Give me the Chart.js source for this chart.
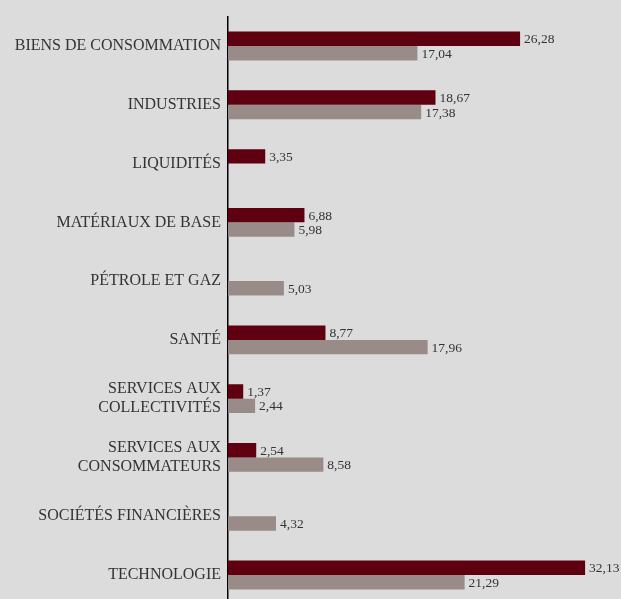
<!DOCTYPE html>
<html>
<head>
<meta charset="utf-8">
<script src="https://cdn.jsdelivr.net/npm/chart.js@4.4.1/dist/chart.umd.min.js"></script>
<style>
  html, body { margin: 0; padding: 0; background: #dcdcdc; overflow: hidden; }
  #wrap { width: 621px; height: 621px; }
</style>
</head>
<body>
<div id="wrap"><canvas id="myChart"></canvas></div>
<script>
var categories = [
  "BIENS DE CONSOMMATION",
  "INDUSTRIES",
  "LIQUIDITÉS",
  "MATÉRIAUX DE BASE",
  "PÉTROLE ET GAZ",
  "SANTÉ",
  ["SERVICES AUX", "COLLECTIVITÉS"],
  ["SERVICES AUX", "CONSOMMATEURS"],
  "SOCIÉTÉS FINANCIÈRES",
  "TECHNOLOGIE"
];
var fundValues = [26.28, 18.67, 3.35, 6.88, null, 8.77, 1.37, 2.54, null, 32.13];
var indexValues = [17.04, 17.38, null, 5.98, 5.03, 17.96, 2.44, 8.58, 4.32, 21.29];

// etiquettes de valeur au bout des barres
var valueLabels = {
  id: 'valueLabels',
  afterDatasetsDraw: function(chart) {
    var ctx = chart.ctx;
    ctx.save();
    ctx.font = '13.5px "Liberation Serif", "Times New Roman", serif';
    ctx.fillStyle = '#333333';
    ctx.textBaseline = 'middle';
    ctx.textAlign = 'left';
    chart.data.datasets.forEach(function(ds, i) {
      var meta = chart.getDatasetMeta(i);
      meta.data.forEach(function(bar, j) {
        var v = ds.data[j];
        if (v === null) return;
        ctx.fillText(v.toFixed(2).replace('.', ','), bar.x + 4, bar.y + 1);
      });
    });
    ctx.restore();
  }
};

var ctx = document.getElementById('myChart').getContext('2d');
var chart = new Chart(ctx, {
  type: 'bar',
  data: {
    labels: categories,
    datasets: [{
      label: "Fonds",
      data: fundValues,
      backgroundColor: '#5e0010',
      categoryPercentage: 0.49,
      barPercentage: 1
    }, {
      label: "Indice",
      data: indexValues,
      backgroundColor: '#998c88',
      categoryPercentage: 0.49,
      barPercentage: 1
    }]
  },
  options: {
    indexAxis: 'y',
    responsive: true,
    maintainAspectRatio: false,
    animation: false,
    layout: { padding: { top: 11, right: 4, bottom: 0, left: 0 } },
    plugins: {
      legend: { display: false },
      tooltip: { enabled: false }
    },
    scales: {
      x: {
        display: false,
        min: 0,
        max: 35
      },
      y: {
        grid: { display: false, drawTicks: false },
        border: { color: '#000000', width: 1.5 },
        ticks: {
          color: '#333333',
          padding: 7,
          font: { family: '"Liberation Serif", "Times New Roman", serif', size: 16, lineHeight: 1.2 }
        },
        afterFit: function(scale) { scale.width = 228; }
      }
    }
  },
  plugins: [valueLabels]
});
</script>
</body>
</html>
